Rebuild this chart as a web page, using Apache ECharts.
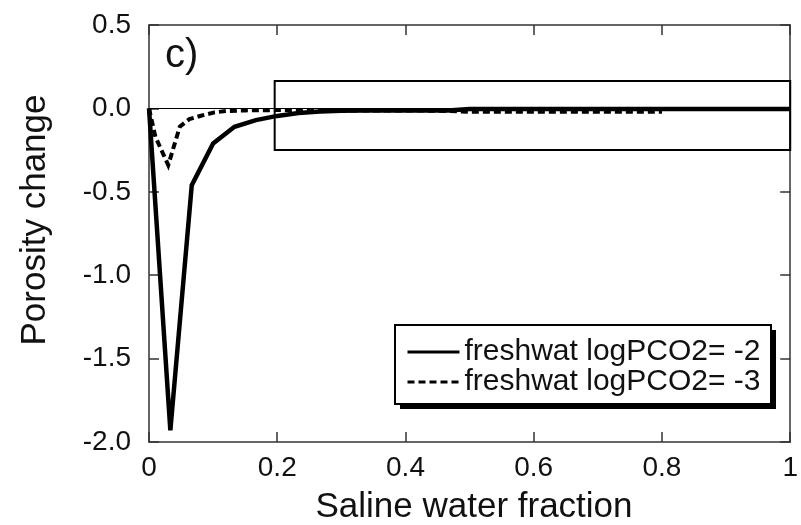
<!DOCTYPE html>
<html>
<head>
<meta charset="utf-8">
<script src="https://cdn.jsdelivr.net/npm/echarts@6/dist/echarts.min.js"></script>
<style>
  html, body { margin: 0; padding: 0; background: #ffffff; }
  #chart { width: 801px; height: 525px; }
</style>
</head>
<body>
<div id="chart"></div>
<script>
// Porosity change vs. saline water fraction, freshwater at logPCO2 = -2
const fracA = [0, 0.0333, 0.0667, 0.1, 0.1333, 0.1667, 0.2, 0.2333, 0.2667, 0.3,
               0.3333, 0.3667, 0.4, 0.4333, 0.4667, 0.5, 0.5333, 0.5667, 0.6, 0.6333,
               0.6667, 0.7, 0.7333, 0.7667, 0.8, 0.8333, 0.8667, 0.9, 0.9333, 0.9667, 1];
const porA  = [0, -1.93, -0.46, -0.21, -0.11, -0.07, -0.045, -0.028, -0.018, -0.014,
               -0.013, -0.012, -0.012, -0.012, -0.012, -0.004, -0.004, -0.004, -0.004, -0.004,
               -0.004, -0.004, -0.004, -0.004, -0.004, -0.004, -0.004, -0.004, -0.004, -0.004, -0.004];

// Freshwater at logPCO2 = -3
const fracB = [0, 0.01, 0.03, 0.048, 0.063, 0.081, 0.102, 0.12, 0.15, 0.2,
               0.25, 0.3, 0.35, 0.4, 0.45, 0.5, 0.55, 0.6, 0.65, 0.7, 0.75, 0.8];
const porB  = [0, -0.17, -0.34, -0.11, -0.064, -0.044, -0.024, -0.016, -0.012, -0.01,
               -0.01, -0.012, -0.012, -0.012, -0.014, -0.02, -0.02, -0.02, -0.02, -0.02, -0.02, -0.02];

const seriesNames = ['freshwat logPCO2= -2', 'freshwat logPCO2= -3'];

// Axis ranges and steps
const xMin = 0, xMax = 1, xStep = 0.2;
const yMin = -2, yMax = 0.5, yStep = 0.5;

// Highlighted window (fraction range, porosity range)
const windowFrac = [0.196, 1];
const windowPor = [-0.25, 0.165];

const FONT = "'Liberation Sans', Arial, sans-serif";
const INK = '#111111';
const FRAME = '#333333';

// Legend box placement (pixels) with its drop shadow
const LEG = { x: 395, y: 325, w: 376, h: 79, shadow: 5 };

const pairs = (xs, ys) => xs.map((x, i) => [x, ys[i]]);

const frameAxis = {
  axisLine: { show: true, onZero: false, lineStyle: { color: FRAME, width: 1.5 } },
  axisTick: { show: true, inside: true, length: 10, lineStyle: { color: FRAME, width: 1.5 } },
  splitLine: { show: false }
};

const chart = echarts.init(document.getElementById('chart'), null, { renderer: 'canvas' });

chart.setOption({
  backgroundColor: '#ffffff',
  animation: false,
  textStyle: { fontFamily: FONT },
  grid: { left: 149, right: 2, top: 25, bottom: 83, containLabel: false },
  xAxis: [
    Object.assign({}, frameAxis, {
      type: 'value', position: 'bottom', min: xMin, max: xMax, interval: xStep,
      axisLabel: { show: true, color: INK, fontSize: 28, fontFamily: FONT, margin: 12, showMaxLabel: true,
                   formatter: v => String(+v.toFixed(1)) }
    }),
    Object.assign({}, frameAxis, {
      type: 'value', position: 'top', min: xMin, max: xMax, interval: xStep,
      axisLabel: { show: false }
    })
  ],
  yAxis: [
    Object.assign({}, frameAxis, {
      type: 'value', position: 'left', min: yMin, max: yMax, interval: yStep,
      axisLabel: { show: true, color: INK, fontSize: 28, fontFamily: FONT, margin: 18,
                   formatter: v => v.toFixed(1) }
    }),
    Object.assign({}, frameAxis, {
      type: 'value', position: 'right', min: yMin, max: yMax, interval: yStep,
      axisLabel: { show: false }
    })
  ],
  legend: {
    orient: 'vertical',
    left: LEG.x, top: LEG.y,
    padding: [12, 10, 7, 11],
    itemGap: 0,
    itemWidth: 52, itemHeight: 14,
    z: 20,
    textStyle: { color: INK, fontSize: 30, fontFamily: FONT, lineHeight: 30 },
    itemStyle: { opacity: 0, borderWidth: 0 },
    lineStyle: { width: 3 },
    selectedMode: false,
    data: seriesNames
  },
  graphic: [
    { type: 'text', left: 165, top: 36, silent: true,
      style: { text: 'c)', fontSize: 40, fontFamily: FONT, fill: INK } },
    { type: 'text', x: 474, y: 507, silent: true,
      style: { text: 'Saline water fraction', fontSize: 35, fontFamily: FONT, fill: INK,
               align: 'center', verticalAlign: 'middle' } },
    { type: 'text', x: 35, y: 220, rotation: Math.PI / 2, silent: true,
      style: { text: 'Porosity change', fontSize: 35, fontFamily: FONT, fill: INK,
               align: 'center', verticalAlign: 'middle' } },
    // legend frame: solid drop shadow, then white box with black border
    { type: 'rect', silent: true, z: 15,
      shape: { x: LEG.x + LEG.shadow, y: LEG.y + LEG.shadow, width: LEG.w, height: LEG.h },
      style: { fill: '#000000' } },
    { type: 'rect', silent: true, z: 16,
      shape: { x: LEG.x, y: LEG.y, width: LEG.w, height: LEG.h },
      style: { fill: '#ffffff', stroke: '#000000', lineWidth: 2 } }
  ],
  series: [
    {
      name: seriesNames[0],
      type: 'line',
      data: pairs(fracA, porA),
      showSymbol: false, symbol: 'none',
      lineStyle: { color: '#000000', width: 4.5, type: 'solid', join: 'miter', cap: 'butt' },
      itemStyle: { color: '#000000' },
      markLine: {
        silent: true, symbol: 'none', label: { show: false },
        lineStyle: { color: '#000000', width: 1, type: 'solid' },
        data: [{ yAxis: 0 }]
      },
      markArea: {
        silent: true,
        itemStyle: { color: 'rgba(0,0,0,0)', borderColor: '#000000', borderWidth: 2 },
        data: [[{ xAxis: windowFrac[0], yAxis: windowPor[1] }, { xAxis: windowFrac[1], yAxis: windowPor[0] }]]
      },
      z: 3
    },
    {
      name: seriesNames[1],
      type: 'line',
      data: pairs(fracB, porB),
      showSymbol: false, symbol: 'none',
      lineStyle: { color: '#000000', width: 4, type: [7, 4], join: 'miter', cap: 'butt' },
      itemStyle: { color: '#000000' },
      z: 4
    }
  ]
});
</script>
</body>
</html>
